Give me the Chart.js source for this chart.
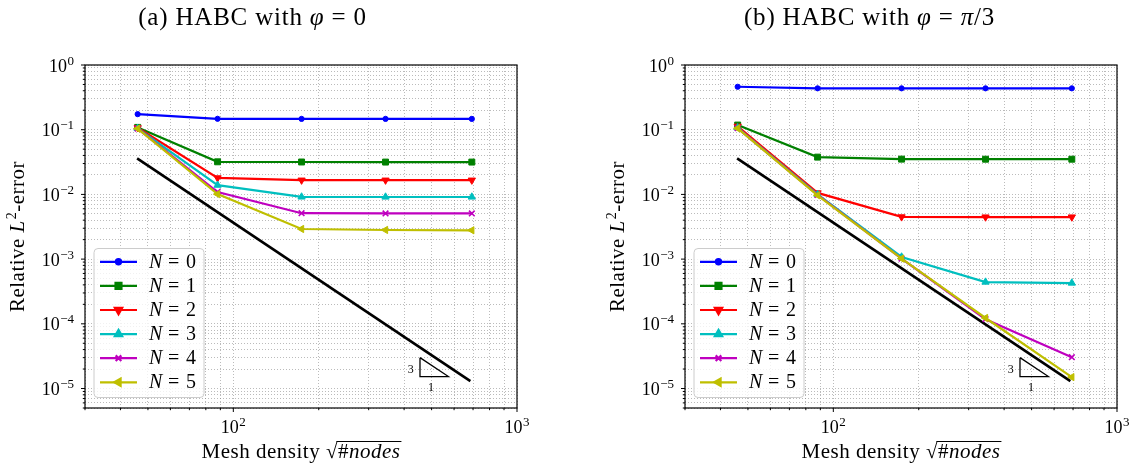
<!DOCTYPE html>
<html>
<head>
<meta charset="utf-8">
<script src="https://cdn.jsdelivr.net/npm/chart.js@4.4.0/dist/chart.umd.min.js"></script>
<style>
  body { margin: 0; background: #fff; }
  .cell { position: absolute; top: 0; width: 568px; height: 466px; }
</style>
</head>
<body>
<div class="cell" style="left:0"><canvas id="chartA"></canvas></div>
<div class="cell" style="left:568px"><canvas id="chartB"></canvas></div>
<script>
// mesh density sqrt(#nodes)
const meshDensity = [46, 88, 174, 344, 693];
const seriesLabels = ['0', '1', '2', '3', '4', '5'];

// (a) phi = 0
const phi0N0 = [0.174, 0.1475, 0.147, 0.147, 0.147];
const phi0N1 = [0.1086, 0.0319, 0.0317, 0.0316, 0.0316];
const phi0N2 = [0.107, 0.0180, 0.0166, 0.0166, 0.0166];
const phi0N3 = [0.105, 0.0139, 0.00914, 0.00912, 0.00912];
const phi0N4 = [0.104, 0.0109, 0.00512, 0.00508, 0.00508];
const phi0N5 = [0.104, 0.0101, 0.00292, 0.00282, 0.00279];

// (b) phi = pi/3
const phi3N0 = [0.461, 0.436, 0.436, 0.436, 0.436];
const phi3N1 = [0.118, 0.0377, 0.0351, 0.0350, 0.0350];
const phi3N2 = [0.113, 0.01055, 0.00449, 0.00447, 0.00447];
const phi3N3 = [0.107, 0.0100, 0.00108, 0.000442, 0.000427];
const phi3N4 = [0.106, 0.0098, 0.00102, 0.000118, 0.0000305];
const phi3N5 = [0.105, 0.0097, 0.00102, 0.000123, 0.0000150];

// slope-3 reference line and triangle
const refX = [45.8, 685];
const refY = [0.036, 0.000013];
const triX = [455, 455, 573, 455];
const triY = [0.00003, 0.0000153, 0.0000153, 0.00003];
const triText = ['3', '1'];
const triTextX = [422, 498];
const triTextY = [0.0000197, 0.0000107];

// axes
const xMin = 30, xMax = 1000;
const yMin = 0.000005, yMax = 1;
const xTickExp = [2, 3];
const yTickExp = [0, -1, -2, -3, -4, -5];

const colors = ['#0000ff', '#008000', '#ff0000', '#00bfbf', '#bf00bf', '#bfbf00'];
const marks = [
  { style: 'circle', rot: 0, r: 2.6 },
  { style: 'rect', rot: 0, r: 4.2 },
  { style: 'triangle', rot: 180, r: 4.2 },
  { style: 'triangle', rot: 0, r: 4.2 },
  { style: 'crossRot', rot: 0, r: 4 },
  { style: 'triangle', rot: -90, r: 4.2 }
];
const SERIF = '"Liberation Serif", "DejaVu Serif", serif';

function logTicks(min, max) {
  const out = [];
  for (let e = Math.floor(Math.log10(min)); e <= Math.ceil(Math.log10(max)); e++) {
    for (let m = 1; m <= 9; m++) {
      const v = Number((m * Math.pow(10, e)).toPrecision(10));
      if (v >= min * 0.9999 && v <= max * 1.0001) out.push({ value: v, major: m === 1 });
    }
  }
  return out;
}

// draw a row of [text, italic] pieces
function richText(ctx, parts, x, y, size, align, spacing) {
  ctx.letterSpacing = (spacing || 0) + 'px';
  let w = 0;
  parts.forEach(p => {
    ctx.font = (p[1] ? 'italic ' : '') + size + 'px ' + SERIF;
    w += ctx.measureText(p[0]).width;
  });
  let cx = align === 'center' ? x - w / 2 : (align === 'right' ? x - w : x);
  ctx.textAlign = 'left';
  parts.forEach(p => {
    ctx.font = (p[1] ? 'italic ' : '') + size + 'px ' + SERIF;
    ctx.fillText(p[0], cx, y);
    cx += ctx.measureText(p[0]).width;
  });
  ctx.letterSpacing = '0px';
  return w;
}

function powLabel(ctx, exp, x, baseY, align) {
  const e = exp < 0 ? '\u2212' + (-exp) : String(exp);
  ctx.font = '18px ' + SERIF;
  const w1 = ctx.measureText('10').width;
  ctx.font = '13px ' + SERIF;
  const w2 = ctx.measureText(e).width;
  const tot = w1 + w2 + 0.5;
  let sx = align === 'center' ? x - tot / 2 : x - tot;
  ctx.textAlign = 'left';
  ctx.font = '18px ' + SERIF;
  ctx.fillText('10', sx, baseY);
  ctx.font = '13px ' + SERIF;
  ctx.fillText(e, sx + w1 + 0.5, baseY - 7);
}

const figDecor = {
  id: 'figDecor',
  afterDatasetsDraw(chart) {
    const o = chart.options.plugins.figDecor;
    const ctx = chart.ctx, a = chart.chartArea;
    const xs = chart.scales.x, ys = chart.scales.y;
    ctx.save();
    ctx.fillStyle = '#000';
    ctx.textBaseline = 'alphabetic';

    // triangle labels
    ctx.font = '12px ' + SERIF;
    ctx.textAlign = 'center';
    triText.forEach((t, i) => {
      ctx.fillText(t, xs.getPixelForValue(triTextX[i]), ys.getPixelForValue(triTextY[i]) + 4);
    });

    // legend
    const lx = a.left + 9, ly = 248.5, lw = 110, lh = 149;
    ctx.beginPath();
    ctx.roundRect(lx, ly, lw, lh, 4);
    ctx.fillStyle = 'rgba(255,255,255,0.8)';
    ctx.fill();
    ctx.strokeStyle = '#cccccc';
    ctx.lineWidth = 1;
    ctx.stroke();
    chart.data.datasets.forEach((ds, i) => {
      if (!ds.inLegend) return;
      const cy = ly + 13.3 + i * 24.1;
      ctx.strokeStyle = ds.borderColor;
      ctx.lineWidth = ds.borderWidth;
      ctx.beginPath();
      ctx.moveTo(lx + 6, cy);
      ctx.lineTo(lx + 43, cy);
      ctx.stroke();
      ctx.fillStyle = ds.borderColor;
      Chart.helpers.drawPoint(ctx, {
        pointStyle: ds.pointStyle, rotation: ds.pointRotation,
        radius: ds.pointRadius, borderWidth: ds.pointBorderWidth
      }, lx + 24.5, cy);
      ctx.fillStyle = '#000';
      ctx.font = 'italic 20px ' + SERIF;
      ctx.textAlign = 'left';
      const nx = lx + 55;
      ctx.fillText('N', nx, cy + 6);
      ctx.font = '20px ' + SERIF;
      ctx.fillText('=', nx + 19, cy + 6);
      ctx.fillText(ds.label, nx + 37, cy + 6);
    });

    // frame
    ctx.strokeStyle = '#000';
    ctx.lineWidth = 1.2;
    ctx.strokeRect(a.left, a.top, a.right - a.left, a.bottom - a.top);

    // tick marks + labels
    ctx.lineWidth = 1;
    ctx.beginPath();
    xs.ticks.forEach(t => {
      const px = xs.getPixelForValue(t.value);
      ctx.moveTo(px, a.bottom);
      ctx.lineTo(px, a.bottom + (t.major ? 4 : 2.2));
    });
    ys.ticks.forEach(t => {
      const py = ys.getPixelForValue(t.value);
      ctx.moveTo(a.left, py);
      ctx.lineTo(a.left - (t.major ? 4 : 2.2), py);
    });
    ctx.stroke();
    ctx.fillStyle = '#000';
    xTickExp.forEach(e => powLabel(ctx, e, xs.getPixelForValue(Math.pow(10, e)), a.bottom + 25, 'center'));
    yTickExp.forEach(e => powLabel(ctx, e, a.left - 11, ys.getPixelForValue(Math.pow(10, e)) + 6.5, 'right'));

    // axis titles
    const xParts = [['Mesh density ', false], ['\u221A', false], ['#', false], ['nodes', true]];
    const xw = richText(ctx, xParts, (a.left + a.right) / 2, 458, 21, 'center', 0.5);
    ctx.letterSpacing = '0.5px';
    ctx.font = '21px ' + SERIF;
    const pre = ctx.measureText('Mesh density ').width + ctx.measureText('\u221A').width;
    ctx.letterSpacing = '0px';
    const sx = (a.left + a.right) / 2 - xw / 2;
    ctx.beginPath();
    ctx.lineWidth = 1;
    ctx.moveTo(sx + pre - 1.5, 441.5);
    ctx.lineTo(sx + xw + 1, 441.5);
    ctx.stroke();

    ctx.save();
    ctx.translate(o.ylabelX, (a.top + a.bottom) / 2);
    ctx.rotate(-Math.PI / 2);
    ctx.letterSpacing = '0.5px';
    let yw = 0;
    ctx.font = '21px ' + SERIF; yw += ctx.measureText('Relative ').width;
    ctx.font = 'italic 21px ' + SERIF; yw += ctx.measureText('L').width + 1;
    ctx.font = '14px ' + SERIF; yw += ctx.measureText('2').width;
    ctx.font = '21px ' + SERIF; yw += ctx.measureText('-error').width;
    let cx = -yw / 2;
    ctx.textAlign = 'left';
    ctx.font = '21px ' + SERIF; ctx.fillText('Relative ', cx, 0); cx += ctx.measureText('Relative ').width;
    ctx.font = 'italic 21px ' + SERIF; ctx.fillText('L', cx, 0); cx += ctx.measureText('L').width + 1;
    ctx.font = '14px ' + SERIF; ctx.fillText('2', cx, -8); cx += ctx.measureText('2').width;
    ctx.font = '21px ' + SERIF; ctx.fillText('-error', cx, 0);
    ctx.letterSpacing = '0px';
    ctx.restore();

    // title
    richText(ctx, o.title, o.titleX, 25, 25, 'center', 0.8);
    ctx.restore();
  }
};

function makeChart(id, series, opts) {
  const datasets = series.map((vals, i) => ({
    label: seriesLabels[i],
    data: meshDensity.map((x, k) => ({ x: x, y: vals[k] })),
    borderColor: colors[i],
    backgroundColor: colors[i],
    borderWidth: 2.2,
    pointStyle: marks[i].style,
    pointRotation: marks[i].rot,
    pointRadius: marks[i].r,
    pointBorderWidth: marks[i].style === 'crossRot' ? 1.6 : 1,
    pointBackgroundColor: colors[i],
    pointBorderColor: colors[i],
    pointHoverRadius: marks[i].r,
    fill: false,
    tension: 0,
    order: 6 - i,
    inLegend: true
  }));
  datasets.push({
    label: 'ref',
    data: refX.map((x, k) => ({ x: x, y: refY[k] })),
    borderColor: '#000', borderWidth: 2.6, pointRadius: 0, order: 10
  });
  datasets.push({
    label: 'tri',
    data: triX.map((x, k) => ({ x: x, y: triY[k] })),
    borderColor: '#000', borderWidth: 1.3, pointRadius: 0, order: 9
  });

  const gridCommon = { color: 'rgba(120,120,120,0.5)', lineWidth: 1, drawTicks: false };
  return new Chart(document.getElementById(id), {
    type: 'line',
    data: { datasets: datasets },
    options: {
      responsive: true,
      maintainAspectRatio: false,
      animation: false,
      devicePixelRatio: 1,
      layout: { padding: { top: 65, left: 0, right: opts.rightPad, bottom: 0 } },
      plugins: {
        legend: { display: false },
        tooltip: { enabled: false },
        figDecor: opts
      },
      scales: {
        x: {
          type: 'logarithmic', min: xMin, max: xMax,
          ticks: { display: false },
          grid: gridCommon,
          border: { display: false, dash: [1, 2] },
          afterBuildTicks: s => { s.ticks = logTicks(xMin, xMax); },
          afterFit: s => { s.height = 58; }
        },
        y: {
          type: 'logarithmic', min: yMin, max: yMax,
          ticks: { display: false },
          grid: gridCommon,
          border: { display: false, dash: [1, 2] },
          afterBuildTicks: s => { s.ticks = logTicks(yMin, yMax); },
          afterFit: s => { s.width = opts.yWidth; }
        }
      }
    },
    plugins: [figDecor]
  });
}

makeChart('chartA', [phi0N0, phi0N1, phi0N2, phi0N3, phi0N4, phi0N5], {
  rightPad: 51, yWidth: 85, ylabelX: 24, titleX: 252.5,
  title: [['(a) HABC with ', false], ['\u03C6', true], [' = 0', false]]
});
makeChart('chartB', [phi3N0, phi3N1, phi3N2, phi3N3, phi3N4, phi3N5], {
  rightPad: 19, yWidth: 117, ylabelX: 56, titleX: 301.5,
  title: [['(b) HABC with ', false], ['\u03C6', true], [' = ', false], ['\u03C0', true], ['/3', false]]
});
</script>
</body>
</html>
